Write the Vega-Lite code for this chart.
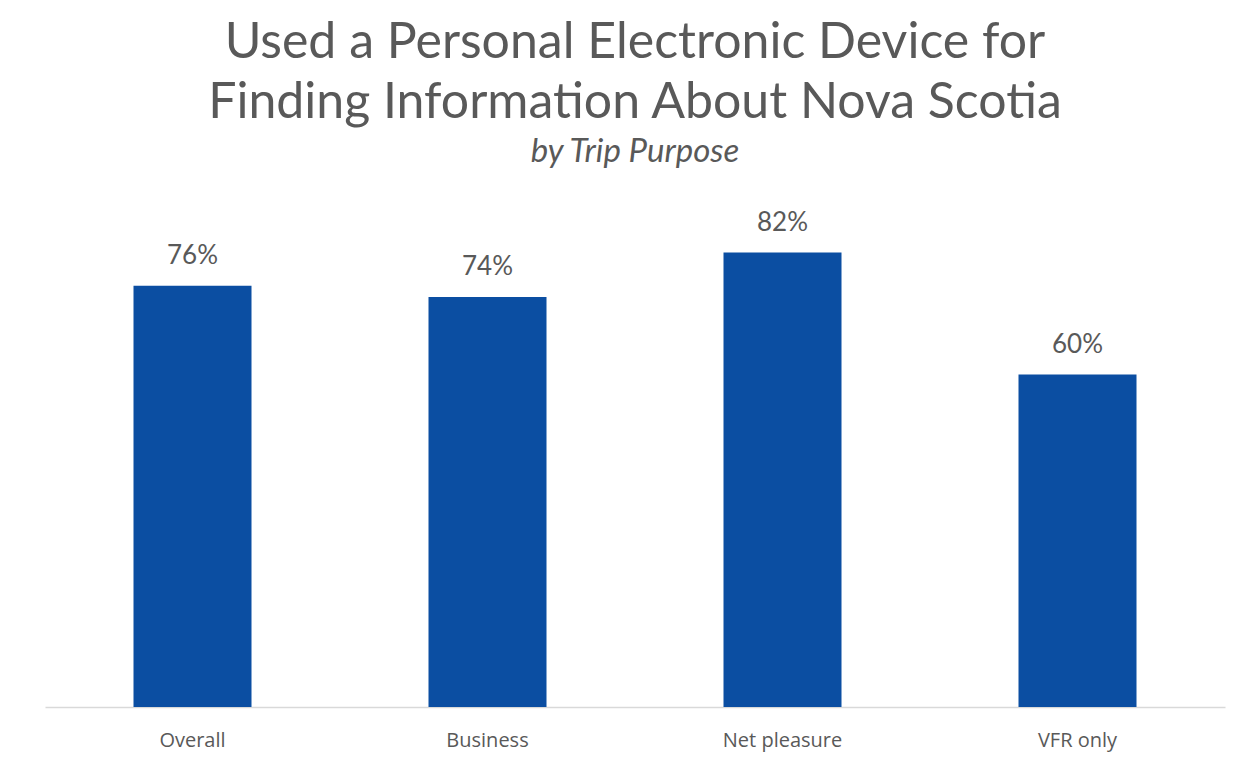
{
  "$schema": "https://vega.github.io/schema/vega-lite/v6.json",
  "width": 1180,
  "height": 471,
  "autosize": {"type": "none"},
  "padding": {"left": 45, "top": 236, "right": 27, "bottom": 63},
  "background": "white",
  "title": {
    "text": ["Used a Personal Electronic Device for", "Finding Information About Nova Scotia"],
    "subtitle": "by Trip Purpose",
    "anchor": "middle",
    "font": "Lato",
    "fontSize": 50,
    "fontWeight": "normal",
    "color": "#595959",
    "lineHeight": 60,
    "subtitleFont": "Lato",
    "subtitleFontSize": 33,
    "subtitleFontStyle": "italic",
    "subtitleColor": "#595959",
    "subtitlePadding": 8,
    "offset": 41
  },
  "data": {
    "values": [
      {"purpose": "Overall", "pct": 0.76},
      {"purpose": "Business", "pct": 0.74},
      {"purpose": "Net pleasure", "pct": 0.82},
      {"purpose": "VFR only", "pct": 0.60}
    ]
  },
  "encoding": {
    "x": {
      "field": "purpose",
      "type": "nominal",
      "sort": null,
      "scale": {"paddingInner": 0.6, "paddingOuter": 0.3},
      "axis": {
        "title": null,
        "labelAngle": 0,
        "labelFont": "Open Sans",
        "labelFontSize": 20,
        "labelColor": "#595959",
        "labelPadding": 23,
        "ticks": false,
        "domainColor": "#d9d9d9",
        "domainWidth": 1.5,
        "grid": false
      }
    },
    "y": {
      "field": "pct",
      "type": "quantitative",
      "scale": {"domain": [0, 0.85]},
      "axis": null
    }
  },
  "layer": [
    {"mark": {"type": "bar", "color": "#0b4ea2"}},
    {
      "mark": {"type": "text", "dy": -17, "baseline": "bottom", "font": "Lato", "fontSize": 26, "color": "#595959"},
      "encoding": {"text": {"field": "pct", "type": "quantitative", "format": ".0%"}}
    }
  ],
  "config": {"view": {"stroke": null}}
}
